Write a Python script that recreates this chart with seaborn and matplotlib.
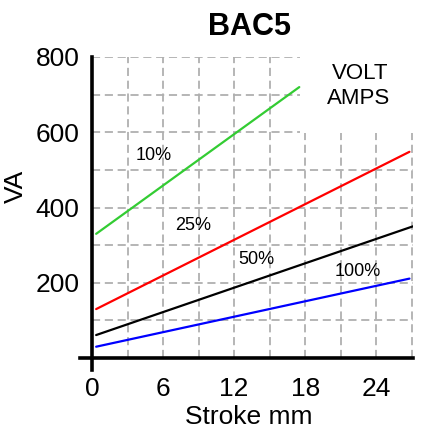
import matplotlib
matplotlib.use("Agg")
import matplotlib.pyplot as plt
import matplotlib.patches as mpatches
import numpy as np
import pandas as pd
import seaborn as sns

# duty-cycle curves (stroke mm -> VA)
duty = ["10%", "25%", "50%", "100%"]
stroke_10 = [0.35, 17.5]
va_10 = [330, 720]
stroke_25 = [0.35, 26.8]
va_25 = [130, 548]
stroke_50 = [0.35, 27.1]
va_50 = [61, 350]
stroke_100 = [0.35, 26.8]
va_100 = [30, 211]

x_major = [0, 6, 12, 18, 24]
x_minor = [3, 9, 15, 21, 27]
y_major = [200, 400, 600, 800]
y_minor = [100, 300, 500, 700]

colors = {"10%": "#33cc33", "25%": "#ff0000", "50%": "#000000", "100%": "#0000ff"}

df = pd.concat([
    pd.DataFrame({"stroke": stroke_10, "va": va_10, "duty": "10%"}),
    pd.DataFrame({"stroke": stroke_25, "va": va_25, "duty": "25%"}),
    pd.DataFrame({"stroke": stroke_50, "va": va_50, "duty": "50%"}),
    pd.DataFrame({"stroke": stroke_100, "va": va_100, "duty": "100%"}),
])

sns.set_style("white")
plt.rcParams['font.family'] = ['Liberation Sans', 'DejaVu Sans']
plt.rcParams['text.color'] = 'black'
plt.rcParams['axes.labelcolor'] = 'black'
plt.rcParams['xtick.color'] = 'black'
plt.rcParams['ytick.color'] = 'black'

fig = plt.figure(figsize=(4.35, 4.32), dpi=100)
ax = fig.add_axes([92 / 435, 1 - 358 / 432, 321 / 435, 301 / 432])

sns.lineplot(data=df, x="stroke", y="va", hue="duty", palette=colors,
             linewidth=1.6, legend=False, ax=ax, zorder=3)

ax.set_xlim(0, 27.1)
ax.set_ylim(0, 800)
ax.set_xticks(x_major)
ax.set_xticks(x_minor, minor=True)
ax.set_yticks(y_major)
ax.set_yticks(y_minor, minor=True)

ax.set_axisbelow(True)
ax.grid(which="both", color="#b0b0b0", linestyle=(0, (4.5, 2.6)), linewidth=1.3)

# blank area behind the VOLT AMPS note
ax.add_patch(mpatches.Rectangle((17.6, 598), 12, 250, facecolor="white",
                                edgecolor="none", zorder=1))

for s in ["top", "right"]:
    ax.spines[s].set_visible(False)
for s in ["left", "bottom"]:
    ax.spines[s].set_linewidth(2.6)
    ax.spines[s].set_color("black")
ax.spines["left"].set_bounds(-32, 800)
ax.spines["bottom"].set_bounds(-1.0, 27.1)

ax.tick_params(axis="x", which="both", direction="out", length=12, width=1.6,
               color="black", labelsize=19, labelcolor="black", pad=2)
ax.tick_params(axis="y", which="both", length=0, labelsize=19,
               labelcolor="black", pad=9)

ax.set_xlabel("Stroke mm", fontsize=19, color="black")
ax.set_ylabel("VA", fontsize=19, color="black")
ax.xaxis.set_label_coords(0.487, -0.155)
ax.yaxis.set_label_coords(-0.2, 0.57)

# curve labels
ax.text(5.2, 538, "10%", fontsize=13, ha="center", va="center")
ax.text(8.5, 352, "25%", fontsize=13, ha="center", va="center")
ax.text(13.9, 262, "50%", fontsize=13, ha="center", va="center")
ax.text(22.4, 231, "100%", fontsize=13, ha="center", va="center")
ax.text(22.65, 757, "VOLT", fontsize=16, ha="center", va="center")
ax.text(22.5, 689, "AMPS", fontsize=16, ha="center", va="center")

fig.text(250 / 435, 1 - 35 / 432, "BAC5", fontsize=22, fontweight="bold",
         color="black", ha="center", va="baseline")

fig.savefig("out.png", dpi=100)
